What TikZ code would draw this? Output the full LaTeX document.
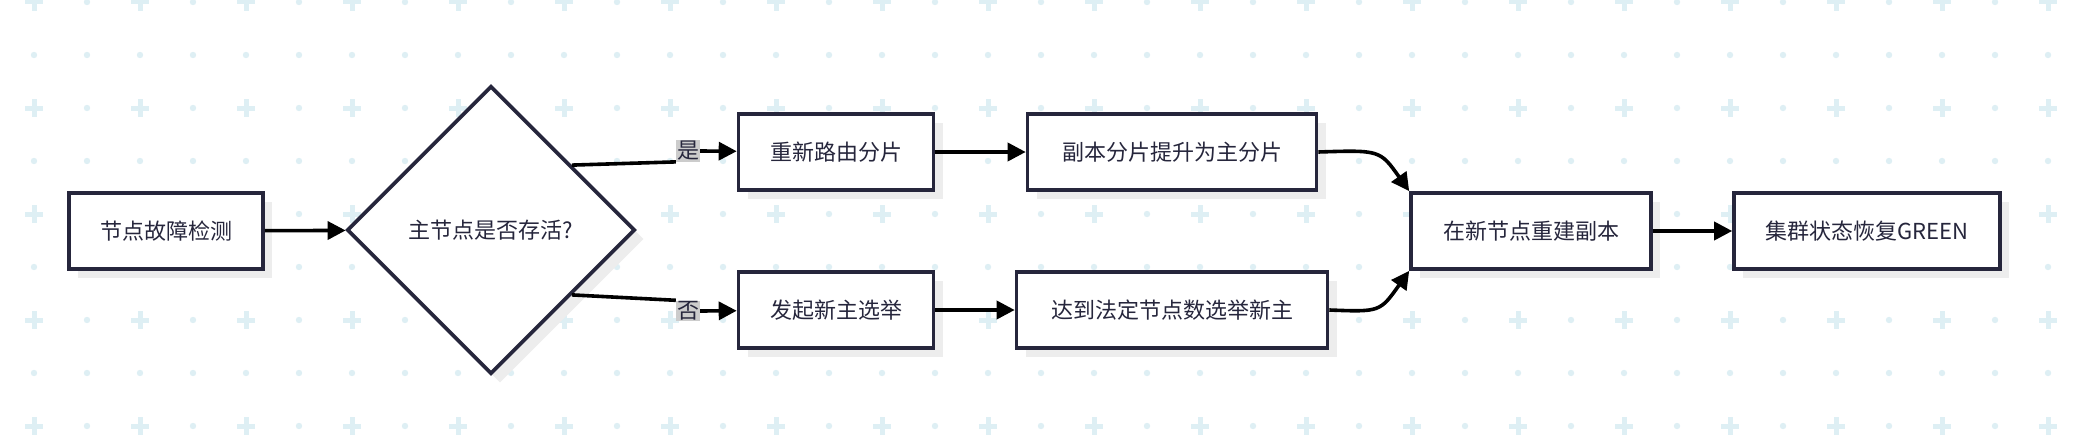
\documentclass[tikz,border=0pt]{standalone}
\usepackage{fontspec}
\setmainfont{Noto Sans CJK SC}
\usetikzlibrary{arrows.meta,shapes.geometric,shadows}
\definecolor{ink}{RGB}{38,38,60}
\definecolor{pat}{RGB}{222,239,244}
\begin{document}
\begin{tikzpicture}[x=1pt,y=-1pt,
  box/.style={draw=ink,text=ink,line width=3.6pt,fill=white,minimum height=76pt,font=\fontsize{22}{26}\selectfont,
    drop shadow={shadow xshift=9pt,shadow yshift=-9pt,fill=black!7,opacity=1}},
  conn/.style={line width=3.6pt,-{Triangle[length=18pt,width=18pt]}},
  lab/.style={fill=black!20,text=ink,inner sep=1pt,font=\fontsize{22}{26}\selectfont}]
\useasboundingbox (0,0) rectangle (2074,444);
\fill[white] (0,0) rectangle (2074,444);
\foreach \r in {0,...,4}{
  \foreach \c in {0,...,19}{
    \pgfmathsetmacro\yy{2+106*\r}
    \pgfmathsetmacro\xx{34+106*\c}
    \draw[pat,line width=5pt] (\xx-9,\yy) -- (\xx+9,\yy) (\xx,\yy-9) -- (\xx,\yy+9);
    \fill[pat] (\xx+53,\yy) circle (3.2);
  }}
\foreach \r in {0,...,3}{
  \foreach \c in {0,...,39}{
    \pgfmathsetmacro\yy{55+106*\r}
    \pgfmathsetmacro\xx{34+53*\c}
    \fill[pat] (\xx,\yy) circle (3.2);
  }}
\node[box,minimum width=194pt] (a) at (166,231) {节点故障检测};
\node[box,diamond,minimum width=288pt,minimum height=288pt,aspect=1,inner sep=0pt] (d) at (491,230) {主节点是否存活?};
\node[box,minimum width=195pt] (b1) at (836,152) {重新路由分片};
\node[box,minimum width=289pt] (b2) at (1172,152) {副本分片提升为主分片};
\node[box,minimum width=195pt] (c1) at (836,310) {发起新主选举};
\node[box,minimum width=311pt] (c2) at (1172,310) {达到法定节点数选举新主};
\node[box,minimum width=240pt] (e) at (1531,231) {在新节点重建副本};
\node[box,minimum width=266pt] (f) at (1867,231) {集群状态恢复GREEN};
\node[lab] (ly) at (688,151) {是};
\node[lab] (ln) at (688,311) {否};
\draw[conn] (a) -- (d);
\draw[line width=3.6pt] (d.north east) ++(8,8) coordinate (dne) -- (ly.south west);
\draw[conn] (ly.east) -- (b1);
\draw[line width=3.6pt] (d.south east) ++(8,-8) coordinate (dse) -- (ln.north west);
\draw[conn] (ln.east) -- (c1);
\draw[conn] (b1) -- (b2);
\draw[conn] (c1) -- (c2);
\draw[conn] (b2.east) .. controls (1380,150) .. (e.north west);
\draw[conn] (c2.east) .. controls (1380,312) .. (e.south west);
\draw[conn] (e) -- (f);
\end{tikzpicture}
\end{document}
